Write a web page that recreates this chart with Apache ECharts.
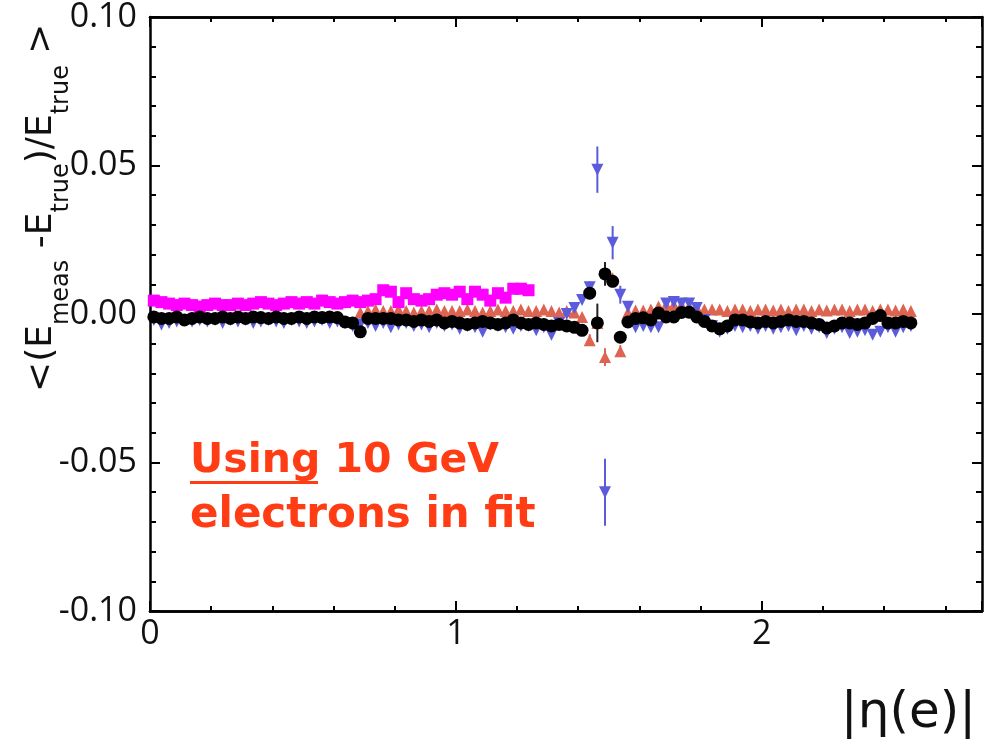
<!DOCTYPE html>
<html><head><meta charset="utf-8">
<script src="https://cdn.jsdelivr.net/npm/echarts@6/dist/echarts.min.js"></script>
<style>html,body{margin:0;padding:0;background:#fff}#c{width:994px;height:743px}</style>
</head><body><div id="c"></div>
<script>
// eta bins of width 0.025, first bin centred at 0.0125
const binWidth = 0.025;

// magenta squares (bins 0..49)
const magentaVals = [
  0.0045,0.004,0.0035,0.003,0.0035,0.003,0.0025,0.003,0.0035,0.003,
  0.003,0.0035,0.003,0.0035,0.004,0.0035,0.003,0.0035,0.004,0.0035,
  0.004,0.0035,0.0045,0.004,0.0035,0.004,0.0045,0.004,0.0045,0.005,
  0.008,0.0075,0.004,0.007,0.005,0.0045,0.005,0.0065,0.007,0.0065,
  0.0075,0.005,0.0075,0.0065,0.0045,0.007,0.0055,0.0085,0.0085,0.008
];

// red up-triangles (bins 0..99, null = no point)
const redVals = [
  null,null,null,null,null,null,null,null,null,null,
  null,null,null,null,null,null,null,null,null,null,
  null,null,null,null,null,null,null,0.0005,0.001,0.0015,
  0.001,0.001,0.0015,0.001,0.0005,0.001,0.001,0.0015,0.001,0.001,
  0.001,0.0015,0.001,0.0005,0.001,0.0015,0.001,0.001,0.0015,0.001,
  0.001,0.0015,0.001,0.0005,0.001,0.0005,-0.001,-0.0088,-0.003,-0.0145,
  0.012,-0.0125,0.0005,0.0012,0.0012,0.0015,0.0025,0.003,0.003,0.003,
  0.0025,0.002,0.0015,0.0015,0.0015,0.001,0.0015,0.0015,0.001,0.0015,
  0.0015,0.0012,0.0015,0.001,0.0015,0.0015,0.001,0.0015,0.0012,0.0015,
  0.0015,0.001,0.0015,0.0015,0.001,0.0015,0.0015,0.0012,0.0015,0.001
];

// blue down-triangles (bins 0..99)
const blueVals = [
  -0.002,-0.0035,-0.003,-0.0025,-0.002,-0.0025,-0.002,-0.0025,-0.002,-0.003,
  -0.002,-0.0025,-0.002,-0.003,-0.0025,-0.002,-0.0025,-0.003,-0.002,-0.0025,
  -0.003,-0.0025,-0.002,-0.003,-0.0025,-0.003,-0.004,-0.0035,-0.003,-0.004,
  -0.003,-0.0045,-0.0035,-0.003,-0.004,-0.0035,-0.0045,-0.003,-0.004,-0.0035,
  -0.005,-0.004,-0.0045,-0.006,-0.0035,-0.004,-0.0045,-0.005,-0.004,-0.004,
  -0.0055,-0.0045,-0.007,-0.003,0.0,0.002,0.0047,0.009,0.0486,-0.060,
  0.024,0.0065,0.0024,-0.0045,-0.004,-0.0045,-0.0045,0.0035,0.004,0.0035,
  0.0035,0.002,-0.002,-0.004,-0.006,-0.005,-0.004,-0.0045,-0.004,-0.005,
  -0.004,-0.005,-0.0045,-0.004,-0.0055,-0.004,-0.005,-0.0045,-0.0064,-0.005,
  -0.0045,-0.0064,-0.006,-0.0055,-0.007,-0.006,-0.0045,-0.006,-0.0045,-0.004
];

// black circles (bins 0..99)
const blackVals = [
  -0.001,-0.0015,-0.0015,-0.001,-0.002,-0.0015,-0.001,-0.0015,-0.0015,-0.001,
  -0.0015,-0.001,-0.0015,-0.001,-0.0012,-0.0015,-0.001,-0.0015,-0.0015,-0.001,
  -0.0015,-0.001,-0.0012,-0.001,-0.0012,-0.0027,-0.003,-0.006,-0.0015,-0.0015,
  -0.0015,-0.0015,-0.002,-0.002,-0.0025,-0.002,-0.0025,-0.002,-0.003,-0.0025,
  -0.003,-0.0035,-0.003,-0.0025,-0.003,-0.0035,-0.003,-0.002,-0.003,-0.0035,
  -0.003,-0.0035,-0.004,-0.0035,-0.004,-0.0045,-0.0055,0.007,-0.003,0.0135,
  0.011,-0.0078,-0.0027,-0.0015,-0.0013,-0.002,0.0003,-0.001,-0.001,0.0005,
  0.0006,-0.001,-0.0025,-0.004,-0.005,-0.004,-0.002,-0.002,-0.0027,-0.003,
  -0.0025,-0.003,-0.0025,-0.002,-0.0025,-0.0025,-0.003,-0.0035,-0.0047,-0.004,
  -0.003,-0.003,-0.0035,-0.003,-0.0015,-0.0005,-0.003,-0.003,-0.0025,-0.003
];

// error bars: [bin index, half-width]
const blackErr = [[57,0.002],[58,0.0065],[59,0.004],[60,0.002],[61,0.002]];
const blueErr  = [[57,0.002],[58,0.0078],[59,0.0113],[60,0.0056],[61,0.003]];
const redErr   = [[57,0.002],[59,0.003],[61,0.002]];

const xTickLabels = ['0','1','2'];
const yTickLabels = ['-0.10','-0.05','0.00','0.05','0.10'];

const C_RED = '#dc6450', C_BLUE = '#5b5bdc', C_MAG = '#ff00ff', C_BLK = '#000000';

function pts(vals){ const out=[]; vals.forEach((v,i)=>{ if(v!==null) out.push([(i+0.5)*binWidth, v]); }); return out; }
function errPts(vals, errs){ return errs.map(([i,e])=>[(i+0.5)*binWidth, vals[i]-e, vals[i]+e]); }
function errSeries(data, color){
  return {type:'custom', data:data, encode:{x:0,y:[1,2]}, silent:true,
    renderItem:(p,api)=>{ const x=api.value(0); const a=api.coord([x,api.value(1)]), b=api.coord([x,api.value(2)]);
      return {type:'line', shape:{x1:a[0],y1:a[1],x2:b[0],y2:b[1]}, style:{stroke:color,lineWidth:2}}; }};
}

const FONT = 'DejaVu Sans';
const TFONT = 'Open Sans';
const chart = echarts.init(document.getElementById('c'), null, {renderer:'canvas'});

function xAx(pos, interval, len, labels){
  return {type:'value', min:0, max:2.72, interval:interval, position:pos, offset:0,
    axisLine:{show:true, onZero:false, lineStyle:{color:'#000', width:2.5}},
    axisTick:{show:true, inside:true, length:len, lineStyle:{color:'#000', width:2}},
    axisLabel:{show:labels, margin:6, fontSize:34, fontFamily:TFONT, color:'#111', showMaxLabel:false,
      formatter:v=>{ const r=Math.round(v); return Math.abs(v-r)<1e-6 && xTickLabels.includes(String(r)) ? String(r) : ''; }},
    splitLine:{show:false}};
}
function yAx(pos, labels){
  return {type:'value', min:-0.1, max:0.1, interval:0.05, position:pos, offset:0,
    axisLine:{show:true, onZero:false, lineStyle:{color:'#000', width:2.5}},
    axisTick:{show:true, inside:true, length:10, lineStyle:{color:'#000', width:2}},
    minorTick:{show:true, splitNumber:5, length:6, lineStyle:{color:'#000', width:2}},
    axisLabel:{show:labels, margin:13, fontSize:34, fontFamily:TFONT, color:'#111',
      formatter:v=>{ const s=v.toFixed(2); return yTickLabels.includes(s)?s:(s==='-0.00'?'0.00':''); }},
    splitLine:{show:false}};
}

// y-axis title built from measured pieces
const ctx = document.createElement('canvas').getContext('2d');
const MAIN = 36, SUB = 24;
const parts = [['<(E',0],['meas',1],[' -E',0],['true',1],[')/E',0],['true',1],[' >',0]];
let cx = 0; const kids = [];
parts.forEach(([t,s])=>{
  const fs = s?SUB:MAIN; ctx.font = fs+'px "'+FONT+'"';
  kids.push({type:'text', x:cx, y:s?20:0, style:{text:t, fontSize:fs, fontFamily:FONT, fill:'#111', align:'left', verticalAlign:'middle'}});
  cx += ctx.measureText(t).width;
});

const mk = c => ({color:c, opacity:1});

chart.setOption({
  animation:false,
  backgroundColor:'#fff',
  grid:{left:150, right:12, top:16, bottom:132},
  xAxis:[xAx('bottom',0.2,5,true), xAx('bottom',1,10,false), xAx('top',0.2,5,false), xAx('top',1,10,false)],
  yAxis:[yAx('left',true), yAx('right',false)],
  series:[
    {type:'scatter', data:pts(redVals), symbol:'triangle', symbolSize:12, itemStyle:mk(C_RED)},
    errSeries(errPts(redVals,redErr), C_RED),
    {type:'scatter', data:pts(blueVals), symbol:'triangle', symbolRotate:180, symbolSize:12, itemStyle:mk(C_BLUE)},
    errSeries(errPts(blueVals,blueErr), C_BLUE),
    {type:'scatter', data:pts(magentaVals), symbol:'rect', symbolSize:12, itemStyle:mk(C_MAG)},
    errSeries(errPts(blackVals,blackErr), '#222'),
    {type:'scatter', data:pts(blackVals), symbol:'circle', symbolSize:13, itemStyle:mk(C_BLK)}
  ],
  graphic:[
    {type:'group', x:42, y:392, rotation:Math.PI/2, children:kids},
    {type:'text', x:190, y:461, style:{text:'Using 10 GeV', fontSize:41, fontWeight:'bold', fontFamily:FONT, fill:'#ff3c14', align:'left', verticalAlign:'middle'}},
    {type:'rect', shape:{x:190, y:481, width:128, height:3}, style:{fill:'#ff3c14'}},
    {type:'text', x:190, y:516, style:{text:'electrons in fit', fontSize:42, fontWeight:'bold', fontFamily:FONT, fill:'#ff3c14', align:'left', verticalAlign:'middle'}},
    {type:'text', x:976, y:714, style:{text:'|η(e)|', fontSize:50, fontFamily:FONT, fill:'#111', align:'right', verticalAlign:'middle'}}
  ]
});
</script></body></html>
